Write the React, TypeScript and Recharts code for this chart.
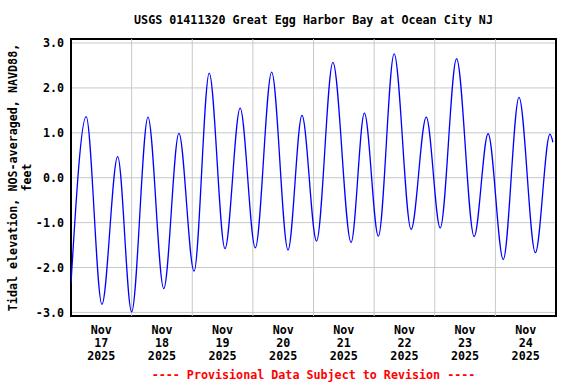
import { LineChart, Line, XAxis, YAxis, CartesianGrid, ReferenceLine, ReferenceArea } from 'recharts';

// time in days since Nov 17 2025 00:00, tidal elevation in feet (turning points)
const times = [
  0.0, 0.25, 0.51, 0.77, 1.0, 1.27, 1.53, 1.78, 2.03, 2.28, 2.54, 2.79, 3.04, 3.31, 3.58, 3.81,
  4.05, 4.32, 4.62, 4.84, 5.07, 5.33, 5.61, 5.86, 6.09, 6.36, 6.65, 6.88, 7.13, 7.39, 7.66, 7.9, 7.95,
];
const levels = [
  -2.35, 1.36, -2.82, 0.47, -2.99, 1.35, -2.47, 0.99, -2.08, 2.33, -1.58, 1.55, -1.56, 2.35, -1.61, 1.39,
  -1.41, 2.57, -1.44, 1.44, -1.3, 2.76, -1.15, 1.35, -1.12, 2.65, -1.31, 0.98, -1.82, 1.79, -1.67, 0.97, 0.79,
];

const dayTicks = [0.5, 1.5, 2.5, 3.5, 4.5, 5.5, 6.5, 7.5];
const dayLabels = ['17', '18', '19', '20', '21', '22', '23', '24'];
const midnights = [1, 2, 3, 4, 5, 6, 7];
const yTicks = [-3, -2, -1, 0, 1, 2, 3];

const TITLE = 'USGS 01411320 Great Egg Harbor Bay at Ocean City NJ';
const Y_LABEL = ['Tidal elevation, NOS-averaged, NAVD88,', 'feet'];
const FOOTER = '---- Provisional Data Subject to Revision ----';

const data = times.map((t, i) => ({ t, level: levels[i] }));

const FONT = '"DejaVu Sans Mono", "Liberation Mono", monospace';
const FS = 11.7;

function DayTick(props: any) {
  const { x, y, payload } = props;
  const i = dayTicks.indexOf(payload.value);
  const lines = ['Nov', dayLabels[i], '2025'];
  return (
    <text x={x} y={y} textAnchor="middle" fontFamily={FONT} fontSize={FS} fontWeight="bold" fill="#000">
      {lines.map((s, k) => (
        <tspan key={k} x={x} dy={k === 0 ? 10 : 13.2}>{s}</tspan>
      ))}
    </text>
  );
}

function YLabel(props: any) {
  const { viewBox } = props;
  const cy = viewBox.y + viewBox.height / 2;
  return (
    <g fontFamily={FONT} fontSize={FS} fontWeight="bold" fill="#000">
      {Y_LABEL.map((s, k) => {
        const x = 13 + k * 13.5;
        return (
          <text key={k} x={x} y={cy} textAnchor="middle" dominantBaseline="central" transform={`rotate(-90 ${x} ${cy})`}>
            {s}
          </text>
        );
      })}
    </g>
  );
}

export default function App() {
  return (
    <div style={{ position: 'absolute', left: 0, top: 0, width: 576, height: 384, background: '#fff' }}>
      <div style={{ position: 'absolute', left: 71, top: 13, width: 485, textAlign: 'center', fontFamily: FONT, fontSize: FS, fontWeight: 'bold', lineHeight: '14px' }}>
        {TITLE}
      </div>
      <LineChart width={576} height={384} data={data} margin={{ top: 39, right: 20, bottom: 18, left: 11 }}>
        <CartesianGrid vertical={false} stroke="#c8c8c8" />
        {midnights.map((d) => (
          <ReferenceLine key={d} x={d} stroke="#c8c8c8" />
        ))}
        <XAxis
          dataKey="t"
          type="number"
          domain={[0, 8]}
          ticks={dayTicks}
          tick={<DayTick />}
          axisLine={false}
          tickLine={false}
          height={50}
          interval={0}
          allowDataOverflow
        />
        <YAxis
          type="number"
          domain={[-3.08, 3.09]}
          ticks={yTicks}
          width={60}
          axisLine={false}
          tickLine={false}
          tickSize={5}
          tickMargin={2}
          allowDataOverflow
          tickFormatter={(v: number) => v.toFixed(1)}
          tick={{ fontFamily: FONT, fontSize: FS, fontWeight: 'bold', fill: '#000' }}
          label={{ content: <YLabel /> }}
        />
        <Line
          type="monotone"
          dataKey="level"
          stroke="#0000ff"
          strokeWidth={1.3}
          dot={false}
          isAnimationActive={false}
        />
        <ReferenceArea x1={0} x2={8} y1={-3.08} y2={3.09} fill="none" stroke="#000" strokeWidth={2} ifOverflow="visible" />
      </LineChart>
      <div style={{ position: 'absolute', left: 71, top: 368, width: 485, textAlign: 'center', fontFamily: FONT, fontSize: FS, fontWeight: 'bold', color: '#ff0000', lineHeight: '14px' }}>
        {FOOTER}
      </div>
    </div>
  );
}
